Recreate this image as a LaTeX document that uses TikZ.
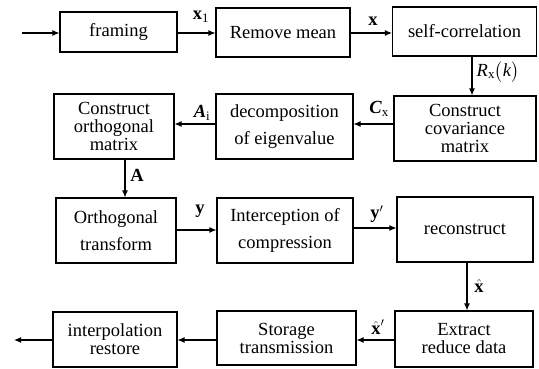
\documentclass[tikz,border=0pt]{standalone}
\usepackage{amsmath}
\usepackage{fontspec}
\setmainfont{Liberation Serif}
\usetikzlibrary{arrows.meta}
\begin{document}
\begin{tikzpicture}[x=1pt,y=-1pt,
  box/.style={draw, line width=1.1pt, align=center, inner sep=0pt,
    font=\fontsize{18.5}{18}\selectfont},
  arr/.style={line width=1.1pt, -{Latex[length=7pt,width=6pt]}},
  lab/.style={font=\fontsize{18.5}{18}\selectfont, inner sep=0pt}]
\useasboundingbox (0,0) rectangle (539,369);
% row 1
\node[box, minimum width=117, minimum height=40] (framing) at (118.5,32) {framing};
\node[box, minimum width=134, minimum height=49] (remove) at (283,32.5) {Remove mean};
\node[box, minimum width=144, minimum height=49] (selfcorr) at (464.5,31.5) {self-correlation};
% row 2
\node[box, minimum width=120, minimum height=65] (orthm) at (114,126.5) {Construct\\orthogonal\\matrix};
\node[box, minimum width=137, minimum height=65] (decomp) at (284.5,126.5) {decomposition\\[9pt]of eigenvalue};
\node[box, minimum width=142, minimum height=65] (covar) at (465,128.5) {Construct\\covariance\\matrix};
% row 3
\node[box, minimum width=120, minimum height=65] (ortht) at (116,230.5) {Orthogonal\\[9pt]transform};
\node[box, minimum width=136, minimum height=65] (intercept) at (285,230.5) {Interception of\\[9pt]compression};
\node[box, minimum width=136, minimum height=65] (recon) at (465,229.5) {reconstruct};
% row 4
\node[box, minimum width=124, minimum height=55] (interp) at (115,339.5) {interpolation\\restore};
\node[box, minimum width=139, minimum height=54] (storage) at (286.5,338) {Storage\\transmission};
\node[box, minimum width=138, minimum height=56] (extract) at (464,339) {Extract\\reduce data};
% helper coordinates
\coordinate (in) at (22,33);
\coordinate (out) at (14,340);
\coordinate (rx) at (472,0);
\coordinate (ax) at (125,0);
\coordinate (hx) at (467,0);
\coordinate (r1) at (0,33);
\coordinate (r2) at (0,124);
\coordinate (r3a) at (0,230);
\coordinate (r3b) at (0,228);
\coordinate (r4) at (0,340);
% connectors
\draw[arr] (in) -- (framing.west |- in);
\draw[arr] (framing.east |- r1) -- (remove.west |- r1);
\draw[arr] (remove.east |- r1) -- (selfcorr.west |- r1);
\draw[arr] (selfcorr.south -| rx) -- (covar.north -| rx);
\draw[arr] (covar.west |- r2) -- (decomp.east |- r2);
\draw[arr] (decomp.west |- r2) -- (orthm.east |- r2);
\draw[arr] (orthm.south -| ax) -- (ortht.north -| ax);
\draw[arr] (ortht.east |- r3a) -- (intercept.west |- r3a);
\draw[arr] (intercept.east |- r3b) -- (recon.west |- r3b);
\draw[arr] (recon.south -| hx) -- (extract.north -| hx);
\draw[arr] (extract.west |- r4) -- (storage.east |- r4);
\draw[arr] (storage.west |- r4) -- (interp.east |- r4);
\draw[arr] (interp.west |- r4) -- (out);
% labels
\node[lab] (l1) at (201,17) {\textbf{x}\textsubscript{1}};
\node[lab] (l2) at (373,21) {\textbf{x}};
\node[lab] (l3) at (498,72) {\textit{R}\textsubscript{x}$\bigl($\textit{k}$\bigr)$};
\node[lab] (l4) at (379,109) {\textbf{\textit{C}}\textsubscript{x}};
\node[lab] (l5) at (202,113) {\textbf{\textit{A}}\textsubscript{i}};
\node[lab] (l6) at (137,175) {\textbf{A}};
\node[lab] (l7) at (200,211) {\textbf{y}};
\node[lab] (l8) at (377,214) {\textbf{y}$'$};
\node[lab] (l9) at (479,286) {$\hat{\text{\textbf{x}}}$};
\node[lab] (l10) at (378,327) {$\hat{\text{\textbf{x}}}'$};
\end{tikzpicture}
\end{document}
